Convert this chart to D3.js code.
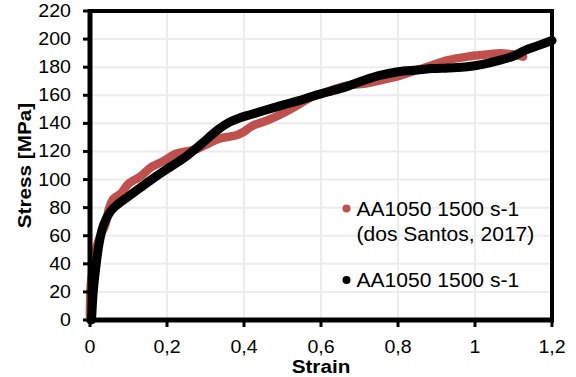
<!DOCTYPE html>
<html>
<head>
<meta charset="utf-8">
<script src="https://cdn.jsdelivr.net/npm/d3@7"></script>
<style>
  html, body { margin: 0; padding: 0; background: #fff; }
  svg { display: block; font-family: "Liberation Sans", Arial, sans-serif; }
</style>
</head>
<body>
<svg id="chart" width="576" height="377"></svg>
<script>
// Stress–strain curves, AA1050 at 1500 s-1
const seriesNames = ["AA1050 1500 s-1\n(dos Santos, 2017)", "AA1050 1500 s-1"];
const seriesColors = ["#C0504D", "#000000"];

// dos Santos (2017) reference curve: [strain, stress MPa]
const santosStrain = [0, 0.000, 0.002, 0.008, 0.017, 0.030, 0.040, 0.050, 0.060, 0.080, 0.100, 0.130, 0.160, 0.190, 0.220, 0.250, 0.280, 0.310, 0.340, 0.380, 0.400, 0.420, 0.460, 0.500, 0.540, 0.570, 0.620, 0.670, 0.720, 0.760, 0.805, 0.850, 0.890, 0.930, 0.980, 1.030, 1.065, 1.100, 1.125];
const santosStress = [0, 10, 25, 38, 52, 62, 68, 80, 86, 90, 97, 102, 109, 113, 118, 120, 122, 126, 129.5, 131.5, 134, 138, 142, 147, 153, 158, 163, 167, 168.5, 171, 174, 178, 181.5, 185, 187.5, 189, 190, 189, 187.5];

// Present test
const testStrain = [0.004, 0.005, 0.007, 0.010, 0.014, 0.018, 0.024, 0.032, 0.042, 0.055, 0.070, 0.100, 0.130, 0.160, 0.200, 0.250, 0.290, 0.330, 0.360, 0.390, 0.420, 0.450, 0.500, 0.540, 0.580, 0.620, 0.670, 0.710, 0.750, 0.800, 0.850, 0.890, 0.930, 0.980, 1.020, 1.065, 1.100, 1.130, 1.160, 1.200];
const testStress = [0, 5, 15, 25, 35, 44, 55, 65, 72, 78, 82, 88, 94, 100, 107.5, 116.5, 125.5, 135, 140.5, 144, 146.5, 149, 153, 156, 159.5, 162.5, 166.5, 170.5, 174, 176.8, 178, 179, 179.5, 180.3, 182, 185, 188, 192, 195, 199];

const xTicks = [0, 0.2, 0.4, 0.6, 0.8, 1, 1.2];
const yTicks = [0, 20, 40, 60, 80, 100, 120, 140, 160, 180, 200, 220];
const xTitle = "Strain";
const yTitle = "Stress [MPa]";

const svg = d3.select("#chart");
const x = d3.scaleLinear().domain([0, 1.2]).range([90, 552]);
const y = d3.scaleLinear().domain([0, 220]).range([320, 11]);
const fmt = v => String(v).replace(".", ",");

// text helper with slight horizontal widening of glyphs
function label(parent, px, py, str, o = {}) {
  const sx = o.sx || 1.12;
  const rot = o.rotate ? ` rotate(${o.rotate})` : "";
  return parent.append("text")
    .attr("transform", `translate(${px},${py})${rot} scale(${sx},1)`)
    .attr("text-anchor", o.anchor || "start")
    .attr("font-size", o.size || 17.5)
    .attr("font-weight", o.weight || "normal")
    .attr("fill", "#000")
    .text(str);
}

// grid
const grid = svg.append("g").attr("stroke", "#ececec").attr("stroke-width", 2);
grid.selectAll(".gx").data(xTicks.slice(1, -1)).join("line")
  .attr("x1", d => x(d)).attr("x2", d => x(d)).attr("y1", y(220)).attr("y2", y(0));
grid.selectAll(".gy").data(yTicks.slice(1, -1)).join("line")
  .attr("x1", x(0)).attr("x2", x(1.2)).attr("y1", d => y(d)).attr("y2", d => y(d));

// curves
const line = d3.line().curve(d3.curveCatmullRom.alpha(0.5));
const santos = santosStrain.map((s, i) => [x(s), y(santosStress[i])]);
const test = testStrain.map((s, i) => [x(s), y(testStress[i])]);
svg.append("path").attr("d", line(santos)).attr("fill", "none")
  .attr("stroke", seriesColors[0]).attr("stroke-width", 8.5)
  .attr("stroke-linecap", "round").attr("stroke-linejoin", "round");
svg.append("path").attr("d", line(test)).attr("fill", "none")
  .attr("stroke", seriesColors[1]).attr("stroke-width", 9)
  .attr("stroke-linecap", "round").attr("stroke-linejoin", "round");

// frame
const frame = svg.append("g").attr("stroke", "#000").attr("fill", "none");
frame.append("line").attr("x1", x(0)).attr("x2", x(1.2)).attr("y1", y(220)).attr("y2", y(220)).attr("stroke-width", 4);
frame.append("line").attr("x1", x(1.2)).attr("x2", x(1.2)).attr("y1", y(220) - 2).attr("y2", y(0)).attr("stroke-width", 4);
frame.append("line").attr("x1", x(0)).attr("x2", x(0)).attr("y1", y(220) - 2).attr("y2", y(0) + 2.5).attr("stroke-width", 5);
frame.append("line").attr("x1", x(0) - 2.5).attr("x2", x(1.2) + 2).attr("y1", y(0)).attr("y2", y(0)).attr("stroke-width", 5);

// ticks
frame.selectAll(".ty").data(yTicks).join("line")
  .attr("x1", x(0) - 7).attr("x2", x(0)).attr("y1", d => y(d)).attr("y2", d => y(d)).attr("stroke-width", 3);
frame.selectAll(".tx").data(xTicks).join("line")
  .attr("x1", d => x(d)).attr("x2", d => x(d)).attr("y1", y(0)).attr("y2", y(0) + 7).attr("stroke-width", 3);

// tick labels
yTicks.forEach(v => label(svg, 71, y(v) + 6, fmt(v), { anchor: "end" }));
xTicks.forEach(v => label(svg, x(v), 353, fmt(v), { anchor: "middle" }));

// axis titles
label(svg, x(0.6), 373, xTitle, { anchor: "middle", weight: "bold", size: 18.5 });
label(svg, 31, (y(0) + y(220)) / 2, yTitle, { anchor: "middle", weight: "bold", size: 18.5, rotate: -90 });

// legend
const legend = [
  { cx: 346.5, cy: 208.5, lines: seriesNames[0].split("\n"), color: seriesColors[0] },
  { cx: 346.5, cy: 280, lines: seriesNames[1].split("\n"), color: seriesColors[1] }
];
legend.forEach(l => {
  svg.append("circle").attr("cx", l.cx).attr("cy", l.cy).attr("r", 4).attr("fill", l.color);
  l.lines.forEach((t, i) => label(svg, l.cx + 10, l.cy + 7 + i * 25, t, { size: 19.5, sx: 1.08 }));
});
</script>
</body>
</html>
